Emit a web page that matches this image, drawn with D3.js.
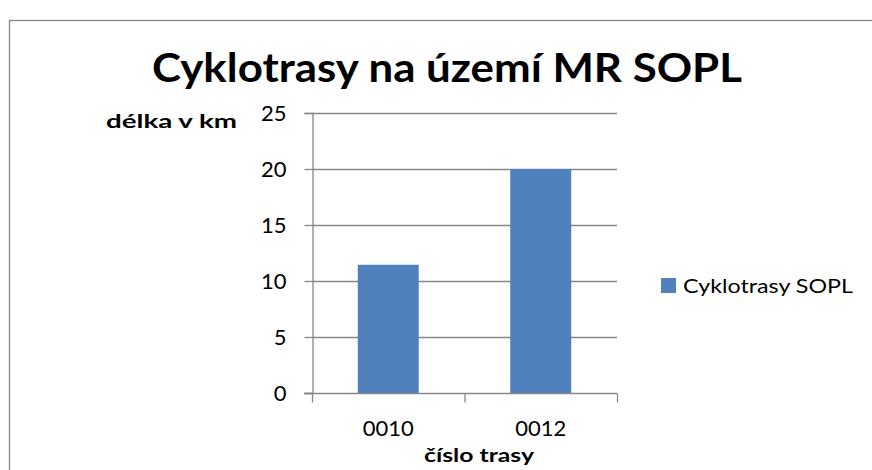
<!DOCTYPE html>
<html>
<head>
<meta charset="utf-8">
<script src="https://cdn.jsdelivr.net/npm/d3@7"></script>
<style>
  body { margin: 0; background: #fff; }
  text { font-family: Lato, "Open Sans", sans-serif; fill: #000; }
</style>
</head>
<body>
<div id="chart"></div>
<script>
// chart data
const categories = ['0010', '0012'];
const values = [11.45, 20];
const yTicks = [0, 5, 10, 15, 20, 25];
const seriesName = 'Cyklotrasy SOPL';

const width = 872, height = 470;
const plot = { left: 312, right: 617, top: 113, bottom: 393 };

const svg = d3.select('#chart').append('svg')
    .attr('width', width)
    .attr('height', height);

// outer chart border (runs off the right and bottom edge)
svg.append('rect')
    .attr('x', 9.5).attr('y', 20.5)
    .attr('width', 900).attr('height', 500)
    .attr('fill', 'none')
    .attr('stroke', '#868686')
    .attr('stroke-width', 1.3);

const x = d3.scaleBand()
    .domain(categories)
    .range([plot.left, plot.right])
    .paddingInner(0.6)
    .paddingOuter(0.3);

const y = d3.scaleLinear()
    .domain([0, 25])
    .range([plot.bottom, plot.top]);

// gridlines
svg.append('g')
    .selectAll('line')
    .data(yTicks.filter(d => d > 0))
    .join('line')
    .attr('x1', plot.left).attr('x2', plot.right)
    .attr('y1', d => Math.round(y(d)) + 0.5)
    .attr('y2', d => Math.round(y(d)) + 0.5)
    .attr('stroke', '#888')
    .attr('stroke-width', 1.3);

// bars
svg.append('g')
    .selectAll('rect')
    .data(values)
    .join('rect')
    .attr('x', (d, i) => x(categories[i]))
    .attr('y', d => y(d))
    .attr('width', x.bandwidth())
    .attr('height', d => y(0) - y(d))
    .attr('fill', '#4F81BD');

// y axis
const yAxis = svg.append('g')
    .attr('transform', `translate(${plot.left + 0.5},0)`)
    .call(d3.axisLeft(y).tickValues(yTicks).tickSize(8).tickPadding(18));
yAxis.selectAll('path, line').attr('stroke', '#888').attr('stroke-width', 1.3);
yAxis.selectAll('text')
    .attr('font-size', 22)
    .attr('font-family', 'Lato, sans-serif');

// x axis: ticks on band boundaries
const xBounds = [plot.left, (plot.left + plot.right) / 2, plot.right];
const xAxis = svg.append('g')
    .attr('transform', `translate(0,${plot.bottom + 0.5})`);
xAxis.append('line')
    .attr('x1', plot.left - 8).attr('x2', plot.right)
    .attr('stroke', '#888').attr('stroke-width', 1.3);
xAxis.selectAll('.tk')
    .data(xBounds)
    .join('line')
    .attr('class', 'tk')
    .attr('x1', d => d + 0.5).attr('x2', d => d + 0.5)
    .attr('y1', 0).attr('y2', 9)
    .attr('stroke', '#888').attr('stroke-width', 1.3);
xAxis.selectAll('text')
    .data(categories)
    .join('text')
    .attr('x', d => x(d) + x.bandwidth() / 2)
    .attr('y', 42)
    .attr('text-anchor', 'middle')
    .attr('font-size', 22)
    .text(d => d);

// title
svg.append('text')
    .attr('x', 447).attr('y', 82)
    .attr('text-anchor', 'middle')
    .attr('font-size', 40)
    .attr('font-weight', 'bold')
    .attr('textLength', 590)
    .attr('lengthAdjust', 'spacingAndGlyphs')
    .text('Cyklotrasy na území MR SOPL');

// axis titles
svg.append('text')
    .attr('x', 106).attr('y', 128)
    .attr('font-size', 19)
    .attr('font-weight', 'bold')
    .attr('textLength', 131)
    .attr('lengthAdjust', 'spacingAndGlyphs')
    .text('délka v km');

svg.append('text')
    .attr('x', 424).attr('y', 462)
    .attr('font-size', 19)
    .attr('font-weight', 'bold')
    .attr('textLength', 110)
    .attr('lengthAdjust', 'spacingAndGlyphs')
    .text('číslo trasy');

// legend
const legend = svg.append('g').attr('transform', 'translate(661,278)');
legend.append('rect')
    .attr('width', 15).attr('height', 15)
    .attr('fill', '#4F81BD');
legend.append('text')
    .attr('x', 22).attr('y', 15)
    .attr('font-size', 20)
    .attr('textLength', 170)
    .attr('lengthAdjust', 'spacingAndGlyphs')
    .text(seriesName);
</script>
</body>
</html>
